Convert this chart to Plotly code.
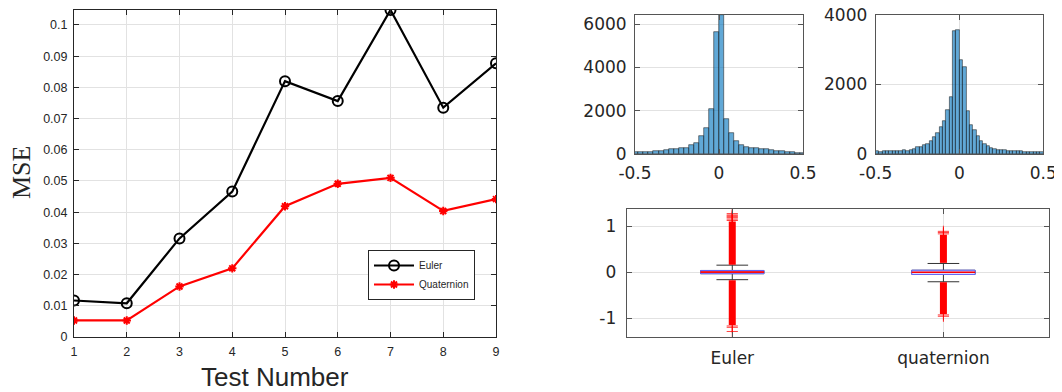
import plotly.graph_objects as go

# ---------------- data ----------------
test_numbers = [1, 2, 3, 4, 5, 6, 7, 8, 9]
mse_euler = [0.0117, 0.0108, 0.0316, 0.0466, 0.0820, 0.0756, 0.1048, 0.0735, 0.0877]
mse_quaternion = [0.0053, 0.0053, 0.0162, 0.0220, 0.0419, 0.0491, 0.0510, 0.0404, 0.0442]
mse_ticks = [0, 0.01, 0.02, 0.03, 0.04, 0.05, 0.06, 0.07, 0.08, 0.09, 0.1]
mse_ticktext = ["0", "0.01", "0.02", "0.03", "0.04", "0.05", "0.06", "0.07", "0.08", "0.09", "0.1"]

# histogram 1 (Euler error), bin width 0.03
hist1_centers = [-0.495, -0.465, -0.435, -0.405, -0.375, -0.345, -0.315, -0.285, -0.255,
                 -0.225, -0.195, -0.165, -0.135, -0.105, -0.075, -0.045, -0.015,
                 0.015, 0.045, 0.075, 0.105, 0.135, 0.165, 0.195, 0.225, 0.255,
                 0.285, 0.315, 0.345, 0.375, 0.405, 0.435, 0.465, 0.495]
hist1_counts = [76, 76, 92, 107, 122, 153, 183, 214, 244,
                260, 290, 397, 519, 824, 1206, 2061, 5650,
                6430, 1634, 992, 595, 412, 336, 290, 260, 229,
                214, 183, 137, 122, 107, 76, 61, 46]
hist1_bin = 0.03
hist1_yticks = [0, 2000, 4000, 6000]

# histogram 2 (quaternion error), bin width 0.02
hist2_centers = [-0.49, -0.47, -0.45, -0.43, -0.41, -0.39, -0.37, -0.35, -0.33, -0.31,
                 -0.29, -0.27, -0.25, -0.23, -0.21, -0.19, -0.17, -0.15, -0.13, -0.11,
                 -0.09, -0.07, -0.05, -0.03, -0.01, 0.01, 0.03, 0.05, 0.07, 0.09,
                 0.11, 0.13, 0.15, 0.17, 0.19, 0.21, 0.23, 0.25, 0.27, 0.29,
                 0.31, 0.33, 0.35, 0.37, 0.39, 0.41, 0.43, 0.45, 0.47, 0.49]
hist2_counts = [95, 60, 75, 78, 78, 80, 80, 88, 105, 90,
                115, 150, 190, 210, 250, 300, 370, 476, 612, 777,
                961, 1262, 1631, 3534, 3563, 2718, 2495, 1243, 835, 680,
                524, 388, 291, 233, 184, 136, 116, 107, 107, 87,
                78, 78, 78, 78, 58, 68, 58, 48, 48, 48]
hist2_bin = 0.02
hist2_yticks = [0, 2000, 4000]
hist_xticks = [-0.5, 0, 0.5]
hist_xticktext = ["-0.5", "0", "0.5"]

# box plot statistics
box_names = ["Euler", "quaternion"]
box_pos = [1, 2]
box_q1 = [-0.035, -0.05]
box_median = [0.0, -0.005]
box_q3 = [0.035, 0.04]
box_lower = [-0.165, -0.21]
box_upper = [0.15, 0.187]
box_yticks = [-1, 0, 1]
box_yticktext = ["-1", "0", "1"]
# dense outlier ranges (lo, hi) per group, above and below
outlier_upper_range = [(0.16, 1.10), (0.20, 0.81)]
outlier_lower_range = [(-1.15, -0.175), (-0.91, -0.22)]
# sparse single outliers
outlier_sparse = [[1.12, 1.15, 1.18, 1.20, 1.22, 1.24, 1.27, -1.17, -1.20, -1.29],
                  [0.83, 0.86, 0.885, -0.93, -0.96]]

# ---------------- layout helpers ----------------
W, H = 1062, 392
OFF = 8  # page body margin
FW, FH = W - OFF, H - OFF


def px(x):
    return (x - OFF) / FW


def py(y):
    return (H - y) / FH


AX = "#262626"
GRID = "#e2e2e2"
SANS = "Liberation Sans, Arial, sans-serif"
DJ = "DejaVu Sans, sans-serif"

fig = go.Figure()

# left line chart
fig.add_trace(go.Scatter(
    x=test_numbers, y=mse_euler, name="Euler", mode="lines+markers",
    line=dict(color="black", width=2.2),
    marker=dict(symbol="circle-open", size=10, color="black", line=dict(width=2, color="black")),
    xaxis="x", yaxis="y"))
fig.add_trace(go.Scatter(
    x=test_numbers, y=mse_quaternion, name="Quaternion", mode="lines+markers",
    line=dict(color="red", width=2.2),
    marker=dict(symbol="asterisk", size=7, color="red", line=dict(width=2, color="red")),
    xaxis="x", yaxis="y"))

# histograms
bar_fill = "rgba(0,114,189,0.62)"
bar_edge = "rgba(20,20,20,0.85)"
fig.add_trace(go.Bar(x=hist1_centers, y=hist1_counts, width=hist1_bin,
                     marker=dict(color=bar_fill, line=dict(color=bar_edge, width=0.6)),
                     showlegend=False, xaxis="x2", yaxis="y2"))
fig.add_trace(go.Bar(x=hist2_centers, y=hist2_counts, width=hist2_bin,
                     marker=dict(color=bar_fill, line=dict(color=bar_edge, width=0.6)),
                     showlegend=False, xaxis="x3", yaxis="y3"))

# box plot: whiskers (black), box (blue), median (red)
fig.add_trace(go.Box(x=box_pos, q1=box_q1, median=box_median, q3=box_q3,
                     lowerfence=box_lower, upperfence=box_upper,
                     width=0.3, whiskerwidth=0.5, boxpoints=False,
                     line=dict(color="#333333", width=1), fillcolor="white",
                     showlegend=False, xaxis="x4", yaxis="y4"))
fig.add_trace(go.Box(x=box_pos, q1=box_q1, median=box_median, q3=box_q3,
                     lowerfence=box_q1, upperfence=box_q3,
                     width=0.3, whiskerwidth=0, boxpoints=False,
                     line=dict(color="#6060ff", width=1), fillcolor="rgba(235,235,255,1)",
                     showlegend=False, xaxis="x4", yaxis="y4"))
fig.add_trace(go.Box(x=box_pos, q1=box_median, median=box_median, q3=box_median,
                     lowerfence=box_median, upperfence=box_median,
                     width=0.3, whiskerwidth=0, boxpoints=False,
                     line=dict(color="red", width=1), fillcolor="rgba(0,0,0,0)",
                     showlegend=False, xaxis="x4", yaxis="y4"))

# dense outliers as thick red segments
ox, oy = [], []
for p, (lo, hi) in zip(box_pos, outlier_upper_range):
    ox += [p, p, None]
    oy += [lo, hi, None]
for p, (lo, hi) in zip(box_pos, outlier_lower_range):
    ox += [p, p, None]
    oy += [lo, hi, None]
fig.add_trace(go.Scatter(x=ox, y=oy, mode="lines", line=dict(color="red", width=7),
                         showlegend=False, hoverinfo="skip", xaxis="x4", yaxis="y4"))
sx, sy = [], []
for p, vals in zip(box_pos, outlier_sparse):
    sx += [p] * len(vals)
    sy += vals
fig.add_trace(go.Scatter(x=sx, y=sy, mode="markers",
                         marker=dict(symbol="cross-thin", size=8, color="red",
                                     line=dict(color="rgba(255,0,0,0.75)", width=1)),
                         showlegend=False, xaxis="x4", yaxis="y4"))


def axis_style(color, size, font, **kw):
    d = dict(showline=True, linecolor=color, linewidth=1, mirror="ticks",
             ticks="inside", ticklen=5, tickcolor=color, tickwidth=1,
             showgrid=True, gridcolor=GRID, gridwidth=1, zeroline=False,
             tickfont=dict(family=font, size=size, color=AX), automargin=False,
             ticklabeloverflow="allow")
    d.update(kw)
    return d


fig.update_layout(
    template="none",
    width=FW, height=FH,
    margin=dict(l=0, r=0, t=0, b=0),
    paper_bgcolor="white", plot_bgcolor="white",
    boxmode="overlay", bargap=0,
    xaxis=axis_style(AX, 12.5, SANS, domain=[px(74), px(496)], anchor="y",
                     range=[1, 9], tickvals=test_numbers, ticklabelstandoff=3),
    yaxis=axis_style(AX, 12.5, SANS, domain=[py(337), py(10)], anchor="x",
                     range=[0, 0.1048], tickvals=mse_ticks, ticktext=mse_ticktext,
                     ticklabelstandoff=3),
    xaxis2=axis_style("#555555", 17, DJ, domain=[px(635), px(803)], anchor="y2",
                      range=[-0.5, 0.5], tickvals=hist_xticks, ticktext=hist_xticktext,
                      ticklabelstandoff=4),
    yaxis2=axis_style("#555555", 17, DJ, domain=[py(154), py(15)], anchor="x2",
                      range=[0, 6430], tickvals=hist1_yticks, ticklabelstandoff=4),
    xaxis3=axis_style("#555555", 17, DJ, domain=[px(875.7), px(1043.3)], anchor="y3",
                      range=[-0.5, 0.5], tickvals=hist_xticks, ticktext=hist_xticktext,
                      ticklabelstandoff=4),
    yaxis3=axis_style("#555555", 17, DJ, domain=[py(154), py(15)], anchor="x3",
                      range=[0, 4000.5], tickvals=hist2_yticks, ticklabelstandoff=4),
    xaxis4=axis_style("#555555", 17, DJ, domain=[px(626.7), px(1049)], anchor="y4",
                      range=[0.5, 2.5], tickvals=box_pos, ticktext=box_names,
                      ticklabelstandoff=6),
    yaxis4=axis_style("#555555", 17, DJ, domain=[py(337), py(209)], anchor="x4",
                      range=[-1.41, 1.37], tickvals=box_yticks, ticktext=box_yticktext,
                      ticklabelstandoff=6),
    legend=dict(x=px(368), y=py(250), xanchor="left", yanchor="top",
                bgcolor="white", bordercolor=AX, borderwidth=1,
                font=dict(family=SANS, size=10, color=AX),
                tracegroupgap=0, itemwidth=40),
    annotations=[
        dict(text="Test Number", x=px(275), y=py(377), xref="paper", yref="paper",
             showarrow=False, font=dict(family=SANS, size=26, color=AX),
             xanchor="center", yanchor="middle"),
        dict(text="MSE", x=px(21), y=py(173), xref="paper", yref="paper",
             showarrow=False, textangle=-90,
             font=dict(family="Liberation Serif, Times New Roman, serif", size=26, color=AX),
             xanchor="center", yanchor="middle"),
    ],
)

fig.write_html("out.html")
